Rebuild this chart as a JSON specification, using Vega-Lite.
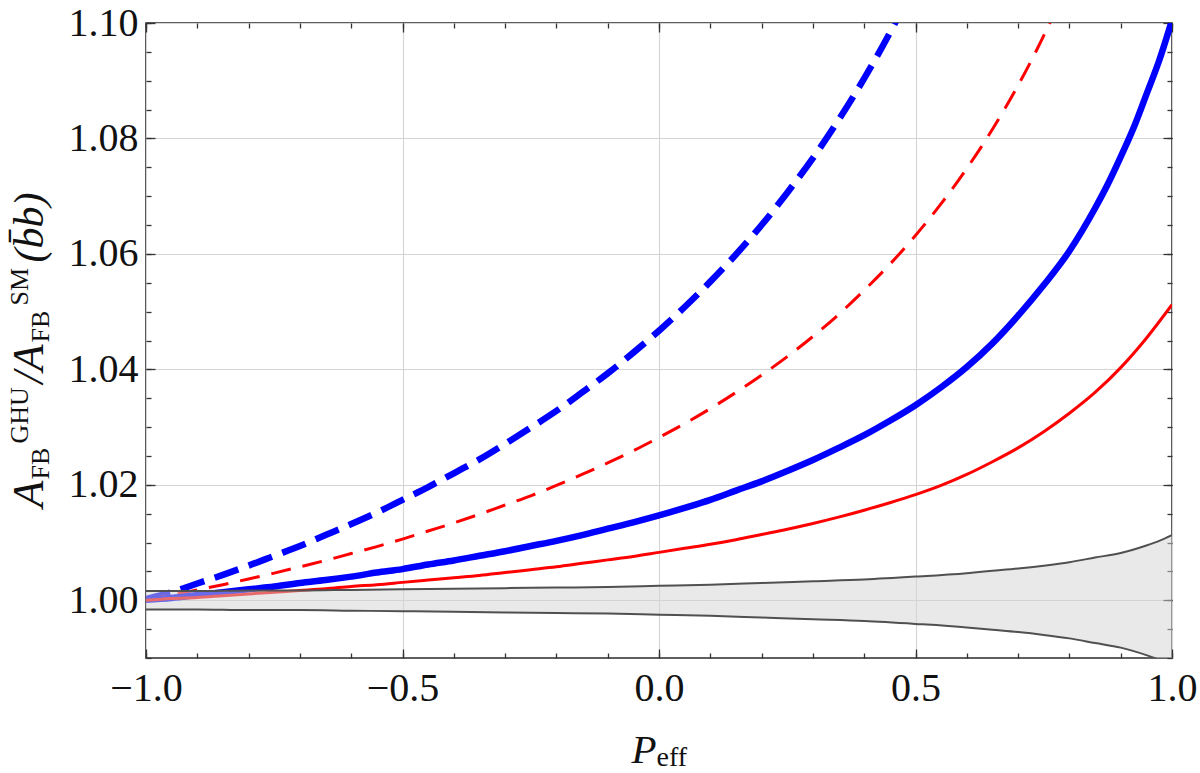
{
  "$schema": "https://vega.github.io/schema/vega-lite/v6.json",
  "width": 1026,
  "height": 635,
  "autosize": {"type": "none"},
  "padding": {"left": 146, "top": 23, "right": 28, "bottom": 115},
  "background": "white",
  "config": {
    "view": {"stroke": "#2b2b2b", "strokeWidth": 1.6},
    "axis": {"labelFont": "Liberation Serif", "titleFont": "Liberation Serif", "titleFontWeight": "normal", "labelColor": "#111", "titleColor": "#111", "tickColor": "#333", "tickWidth": 1.3, "domain": false, "labelOverlap": false, "labelFlush": false, "labelBound": false}
  },
  "datasets": {
    "curves": [
      {"s": "curve 1", "p": -1, "v": 1.0002}, {"s": "curve 1", "p": -0.95, "v": 1.0014}, {"s": "curve 1", "p": -0.9, "v": 1.0029}, {"s": "curve 1", "p": -0.85, "v": 1.0044},
      {"s": "curve 1", "p": -0.8, "v": 1.006}, {"s": "curve 1", "p": -0.75, "v": 1.0077}, {"s": "curve 1", "p": -0.7, "v": 1.0094}, {"s": "curve 1", "p": -0.65, "v": 1.0113},
      {"s": "curve 1", "p": -0.6, "v": 1.0132}, {"s": "curve 1", "p": -0.55, "v": 1.0152}, {"s": "curve 1", "p": -0.5, "v": 1.0174}, {"s": "curve 1", "p": -0.45, "v": 1.0196},
      {"s": "curve 1", "p": -0.4, "v": 1.022}, {"s": "curve 1", "p": -0.35, "v": 1.0244}, {"s": "curve 1", "p": -0.3, "v": 1.0271}, {"s": "curve 1", "p": -0.25, "v": 1.0299},
      {"s": "curve 1", "p": -0.2, "v": 1.0328}, {"s": "curve 1", "p": -0.15, "v": 1.036}, {"s": "curve 1", "p": -0.1, "v": 1.0393}, {"s": "curve 1", "p": -0.05, "v": 1.0429},
      {"s": "curve 1", "p": 0, "v": 1.0467}, {"s": "curve 1", "p": 0.05, "v": 1.0508}, {"s": "curve 1", "p": 0.1, "v": 1.0552}, {"s": "curve 1", "p": 0.15, "v": 1.0599},
      {"s": "curve 1", "p": 0.2, "v": 1.065}, {"s": "curve 1", "p": 0.25, "v": 1.0706}, {"s": "curve 1", "p": 0.3, "v": 1.0766}, {"s": "curve 1", "p": 0.35, "v": 1.0832},
      {"s": "curve 1", "p": 0.4, "v": 1.0904}, {"s": "curve 1", "p": 0.45, "v": 1.0983}, {"s": "curve 1", "p": 0.5, "v": 1.107},

      {"s": "curve 2", "p": -1, "v": 1.0001}, {"s": "curve 2", "p": -0.95, "v": 1.0009}, {"s": "curve 2", "p": -0.9, "v": 1.0018}, {"s": "curve 2", "p": -0.85, "v": 1.0027},
      {"s": "curve 2", "p": -0.8, "v": 1.0037}, {"s": "curve 2", "p": -0.75, "v": 1.0047}, {"s": "curve 2", "p": -0.7, "v": 1.0058}, {"s": "curve 2", "p": -0.65, "v": 1.0069},
      {"s": "curve 2", "p": -0.6, "v": 1.0081}, {"s": "curve 2", "p": -0.55, "v": 1.0093}, {"s": "curve 2", "p": -0.5, "v": 1.0106}, {"s": "curve 2", "p": -0.45, "v": 1.012},
      {"s": "curve 2", "p": -0.4, "v": 1.0134}, {"s": "curve 2", "p": -0.35, "v": 1.0149}, {"s": "curve 2", "p": -0.3, "v": 1.0165}, {"s": "curve 2", "p": -0.25, "v": 1.0181},
      {"s": "curve 2", "p": -0.2, "v": 1.0199}, {"s": "curve 2", "p": -0.15, "v": 1.0218}, {"s": "curve 2", "p": -0.1, "v": 1.0238}, {"s": "curve 2", "p": -0.05, "v": 1.0259},
      {"s": "curve 2", "p": 0, "v": 1.0282}, {"s": "curve 2", "p": 0.05, "v": 1.0306}, {"s": "curve 2", "p": 0.1, "v": 1.0332}, {"s": "curve 2", "p": 0.15, "v": 1.036},
      {"s": "curve 2", "p": 0.2, "v": 1.039}, {"s": "curve 2", "p": 0.25, "v": 1.0422}, {"s": "curve 2", "p": 0.3, "v": 1.0457}, {"s": "curve 2", "p": 0.35, "v": 1.0495},
      {"s": "curve 2", "p": 0.4, "v": 1.0537}, {"s": "curve 2", "p": 0.45, "v": 1.0582}, {"s": "curve 2", "p": 0.5, "v": 1.0632}, {"s": "curve 2", "p": 0.55, "v": 1.0687},
      {"s": "curve 2", "p": 0.6, "v": 1.0748}, {"s": "curve 2", "p": 0.65, "v": 1.0816}, {"s": "curve 2", "p": 0.7, "v": 1.0892}, {"s": "curve 2", "p": 0.75, "v": 1.0978},
      {"s": "curve 2", "p": 0.8, "v": 1.1076},

      {"s": "curve 3", "p": -1, "v": 1.0001}, {"s": "curve 3", "p": -0.95, "v": 1.0004}, {"s": "curve 3", "p": -0.9, "v": 1.0009}, {"s": "curve 3", "p": -0.85, "v": 1.0014},
      {"s": "curve 3", "p": -0.8, "v": 1.0019}, {"s": "curve 3", "p": -0.75, "v": 1.0024}, {"s": "curve 3", "p": -0.7, "v": 1.003}, {"s": "curve 3", "p": -0.65, "v": 1.0035},
      {"s": "curve 3", "p": -0.6, "v": 1.0041}, {"s": "curve 3", "p": -0.55, "v": 1.0048}, {"s": "curve 3", "p": -0.5, "v": 1.0054}, {"s": "curve 3", "p": -0.45, "v": 1.0062},
      {"s": "curve 3", "p": -0.4, "v": 1.0069}, {"s": "curve 3", "p": -0.35, "v": 1.0077}, {"s": "curve 3", "p": -0.3, "v": 1.0085}, {"s": "curve 3", "p": -0.25, "v": 1.0094},
      {"s": "curve 3", "p": -0.2, "v": 1.0103}, {"s": "curve 3", "p": -0.15, "v": 1.0113}, {"s": "curve 3", "p": -0.1, "v": 1.0124}, {"s": "curve 3", "p": -0.05, "v": 1.0135},
      {"s": "curve 3", "p": 0, "v": 1.0147}, {"s": "curve 3", "p": 0.05, "v": 1.016}, {"s": "curve 3", "p": 0.1, "v": 1.0174}, {"s": "curve 3", "p": 0.15, "v": 1.019},
      {"s": "curve 3", "p": 0.2, "v": 1.0206}, {"s": "curve 3", "p": 0.25, "v": 1.0224}, {"s": "curve 3", "p": 0.3, "v": 1.0243}, {"s": "curve 3", "p": 0.35, "v": 1.0264},
      {"s": "curve 3", "p": 0.4, "v": 1.0286}, {"s": "curve 3", "p": 0.45, "v": 1.0311}, {"s": "curve 3", "p": 0.5, "v": 1.0338}, {"s": "curve 3", "p": 0.55, "v": 1.0369},
      {"s": "curve 3", "p": 0.6, "v": 1.0404}, {"s": "curve 3", "p": 0.65, "v": 1.0445}, {"s": "curve 3", "p": 0.7, "v": 1.0493}, {"s": "curve 3", "p": 0.75, "v": 1.0546},
      {"s": "curve 3", "p": 0.8, "v": 1.0605}, {"s": "curve 3", "p": 0.85, "v": 1.0679}, {"s": "curve 3", "p": 0.875, "v": 1.0721}, {"s": "curve 3", "p": 0.9, "v": 1.0768},
      {"s": "curve 3", "p": 0.925, "v": 1.0818}, {"s": "curve 3", "p": 0.95, "v": 1.0876}, {"s": "curve 3", "p": 0.975, "v": 1.0935}, {"s": "curve 3", "p": 1, "v": 1.1005},

      {"s": "curve 4", "p": -1, "v": 1.0}, {"s": "curve 4", "p": -0.95, "v": 1.0003}, {"s": "curve 4", "p": -0.9, "v": 1.0005}, {"s": "curve 4", "p": -0.85, "v": 1.0008},
      {"s": "curve 4", "p": -0.8, "v": 1.0011}, {"s": "curve 4", "p": -0.75, "v": 1.0014}, {"s": "curve 4", "p": -0.7, "v": 1.0017}, {"s": "curve 4", "p": -0.65, "v": 1.002},
      {"s": "curve 4", "p": -0.6, "v": 1.0024}, {"s": "curve 4", "p": -0.55, "v": 1.0027}, {"s": "curve 4", "p": -0.5, "v": 1.0031}, {"s": "curve 4", "p": -0.45, "v": 1.0035},
      {"s": "curve 4", "p": -0.4, "v": 1.0039}, {"s": "curve 4", "p": -0.35, "v": 1.0043}, {"s": "curve 4", "p": -0.3, "v": 1.0048}, {"s": "curve 4", "p": -0.25, "v": 1.0053},
      {"s": "curve 4", "p": -0.2, "v": 1.0058}, {"s": "curve 4", "p": -0.15, "v": 1.0064}, {"s": "curve 4", "p": -0.1, "v": 1.007}, {"s": "curve 4", "p": -0.05, "v": 1.0076},
      {"s": "curve 4", "p": 0, "v": 1.0083}, {"s": "curve 4", "p": 0.05, "v": 1.009}, {"s": "curve 4", "p": 0.1, "v": 1.0097}, {"s": "curve 4", "p": 0.15, "v": 1.0105},
      {"s": "curve 4", "p": 0.2, "v": 1.0114}, {"s": "curve 4", "p": 0.25, "v": 1.0123}, {"s": "curve 4", "p": 0.3, "v": 1.0133}, {"s": "curve 4", "p": 0.35, "v": 1.0144},
      {"s": "curve 4", "p": 0.4, "v": 1.0156}, {"s": "curve 4", "p": 0.45, "v": 1.0169}, {"s": "curve 4", "p": 0.5, "v": 1.0183}, {"s": "curve 4", "p": 0.55, "v": 1.0199},
      {"s": "curve 4", "p": 0.6, "v": 1.0218}, {"s": "curve 4", "p": 0.65, "v": 1.024}, {"s": "curve 4", "p": 0.7, "v": 1.0264}, {"s": "curve 4", "p": 0.75, "v": 1.0292},
      {"s": "curve 4", "p": 0.8, "v": 1.0324}, {"s": "curve 4", "p": 0.85, "v": 1.036}, {"s": "curve 4", "p": 0.9, "v": 1.0403}, {"s": "curve 4", "p": 0.95, "v": 1.0454},
      {"s": "curve 4", "p": 1, "v": 1.0512}
    ],
    "band": [
      {"p": -1, "lo": 0.9984, "hi": 1.0016}, {"p": -0.9, "lo": 0.9984, "hi": 1.0016}, {"p": -0.8, "lo": 0.9983, "hi": 1.0017},
      {"p": -0.7, "lo": 0.9983, "hi": 1.0017}, {"p": -0.6, "lo": 0.9982, "hi": 1.0018}, {"p": -0.5, "lo": 0.9981, "hi": 1.0019},
      {"p": -0.4, "lo": 0.998, "hi": 1.002}, {"p": -0.3, "lo": 0.9979, "hi": 1.0021}, {"p": -0.2, "lo": 0.9978, "hi": 1.0022},
      {"p": -0.1, "lo": 0.9977, "hi": 1.0023}, {"p": 0, "lo": 0.9975, "hi": 1.0025}, {"p": 0.1, "lo": 0.9973, "hi": 1.0027},
      {"p": 0.2, "lo": 0.997, "hi": 1.003}, {"p": 0.3, "lo": 0.9967, "hi": 1.0033}, {"p": 0.4, "lo": 0.9964, "hi": 1.0036},
      {"p": 0.5, "lo": 0.9959, "hi": 1.0041}, {"p": 0.6, "lo": 0.9953, "hi": 1.0047}, {"p": 0.65, "lo": 0.9949, "hi": 1.0051},
      {"p": 0.7, "lo": 0.9945, "hi": 1.0055}, {"p": 0.75, "lo": 0.994, "hi": 1.006}, {"p": 0.8, "lo": 0.9934, "hi": 1.0066},
      {"p": 0.85, "lo": 0.9926, "hi": 1.0074}, {"p": 0.9, "lo": 0.9918, "hi": 1.0082}, {"p": 0.95, "lo": 0.9905, "hi": 1.0095},
      {"p": 0.975, "lo": 0.9897, "hi": 1.0103}, {"p": 1, "lo": 0.9887, "hi": 1.0113}
    ]
  },
  "resolve": {"axis": {"x": "independent", "y": "independent"}},
  "layer": [
    {
      "description": "vertical line at P = 0; carries the minor ticks of the top frame",
      "mark": {"type": "rule", "color": "#111", "strokeWidth": 1.2},
      "encoding": {
        "x": {"datum": 0, "type": "quantitative",
          "scale": {"domain": [-1, 1], "nice": false, "zero": false},
          "axis": {"orient": "top", "values": [-1, -0.9, -0.8, -0.7, -0.6, -0.5, -0.4, -0.3, -0.2, -0.1, 0, 0.1, 0.2, 0.3, 0.4, 0.5, 0.6, 0.7, 0.8, 0.9, 1],
            "tickSize": -5, "labels": false, "grid": false,
            "title": "SM", "titleFontSize": 26, "titleAngle": 270, "titleAlign": "left", "titleBaseline": "alphabetic", "titleX": -119, "titleY": 282}}
      }
    },
    {
      "description": "dashed curves",
      "data": {"name": "curves"},
      "transform": [{"filter": {"field": "s", "oneOf": ["curve 1", "curve 2"]}}],
      "mark": {"type": "line", "clip": true, "strokeCap": "butt", "interpolate": "monotone"},
      "encoding": {
        "x": {"field": "p", "type": "quantitative",
          "scale": {"domain": [-1, 1], "nice": false, "zero": false},
          "axis": {"orient": "bottom", "values": [-1, -0.5, 0, 0.5, 1], "format": ".1f",
            "grid": true, "gridColor": "#d4d4d4", "gridWidth": 1.1,
            "tickSize": -9, "labelFontSize": 40, "labelPadding": 19,
            "title": "P", "titleFontSize": 41, "titleFontStyle": "italic", "titleAngle": 0, "titleAlign": "left", "titleBaseline": "alphabetic", "titleX": 485, "titleY": 104}},
        "y": {"field": "v", "type": "quantitative",
          "scale": {"domain": [0.99, 1.1], "nice": false, "zero": false},
          "axis": {"orient": "left", "values": [1, 1.02, 1.04, 1.06, 1.08, 1.1], "format": ".2f",
            "grid": true, "gridColor": "#d4d4d4", "gridWidth": 1.1,
            "tickSize": -9, "labelFontSize": 40, "labelPadding": 17,
            "title": "A", "titleFontSize": 44, "titleFontStyle": "italic", "titleAngle": 270, "titleAlign": "left", "titleBaseline": "alphabetic", "titleX": -104, "titleY": 484}},
        "color": {"field": "s", "type": "nominal", "legend": null,
          "scale": {"domain": ["curve 1", "curve 2", "curve 3", "curve 4"], "range": ["#0000ff", "#ff0000", "#0000ff", "#ff0000"]}},
        "strokeWidth": {"field": "s", "type": "nominal", "legend": null,
          "scale": {"type": "ordinal", "domain": ["curve 1", "curve 2", "curve 3", "curve 4"], "range": [6.5, 3, 6.5, 3]}},
        "strokeDash": {"field": "s", "type": "nominal", "legend": null,
          "scale": {"type": "ordinal", "domain": ["curve 1", "curve 2"], "range": [[25, 11], [20, 12]]}}
      }
    },
    {
      "description": "solid curves",
      "data": {"name": "curves"},
      "transform": [{"filter": {"field": "s", "oneOf": ["curve 3", "curve 4"]}}],
      "mark": {"type": "line", "clip": true, "interpolate": "monotone"},
      "encoding": {
        "x": {"field": "p", "type": "quantitative",
          "scale": {"domain": [-1, 1], "nice": false, "zero": false},
          "axis": {"orient": "bottom", "values": [-1, -0.9, -0.8, -0.7, -0.6, -0.5, -0.4, -0.3, -0.2, -0.1, 0, 0.1, 0.2, 0.3, 0.4, 0.5, 0.6, 0.7, 0.8, 0.9, 1],
            "tickSize": -5, "labels": false, "grid": false,
            "title": "eff", "titleFontSize": 28, "titleAngle": 0, "titleAlign": "left", "titleBaseline": "alphabetic", "titleX": 510, "titleY": 107}},
        "y": {"field": "v", "type": "quantitative",
          "scale": {"domain": [0.99, 1.1], "nice": false, "zero": false},
          "axis": {"orient": "left", "values": [0.99, 0.995, 1, 1.005, 1.01, 1.015, 1.02, 1.025, 1.03, 1.035, 1.04, 1.045, 1.05, 1.055, 1.06, 1.065, 1.07, 1.075, 1.08, 1.085, 1.09, 1.095, 1.1],
            "tickSize": -5, "labels": false, "grid": false,
            "title": "FB", "titleFontSize": 26, "titleAngle": 270, "titleAlign": "left", "titleBaseline": "alphabetic", "titleX": -98, "titleY": 456}},
        "color": {"field": "s", "type": "nominal", "legend": null,
          "scale": {"domain": ["curve 1", "curve 2", "curve 3", "curve 4"], "range": ["#0000ff", "#ff0000", "#0000ff", "#ff0000"]}},
        "strokeWidth": {"field": "s", "type": "nominal", "legend": null,
          "scale": {"type": "ordinal", "domain": ["curve 1", "curve 2", "curve 3", "curve 4"], "range": [6.5, 3, 6.5, 3]}}
      }
    },
    {
      "description": "uncertainty band around 1",
      "data": {"name": "band"},
      "mark": {"type": "area", "clip": true, "color": "#d4d4d4", "opacity": 0.5, "interpolate": "monotone"},
      "encoding": {
        "x": {"field": "p", "type": "quantitative",
          "scale": {"domain": [-1, 1], "nice": false, "zero": false},
          "axis": {"orient": "top", "values": [-1, -0.5, 0, 0.5, 1],
            "tickSize": -9, "labels": false, "grid": false,
            "title": "FB", "titleFontSize": 26, "titleAngle": 270, "titleAlign": "left", "titleBaseline": "alphabetic", "titleX": -98, "titleY": 319}},
        "y": {"field": "hi", "type": "quantitative",
          "scale": {"domain": [0.99, 1.1], "nice": false, "zero": false},
          "axis": {"orient": "right", "values": [1, 1.02, 1.04, 1.06, 1.08, 1.1],
            "tickSize": -9, "labels": false, "grid": false,
            "title": "GHU", "titleFontSize": 26, "titleAngle": 270, "titleAlign": "left", "titleBaseline": "alphabetic", "titleX": -1145, "titleY": 420}},
        "y2": {"field": "lo"}
      }
    },
    {
      "description": "upper edge of the band",
      "data": {"name": "band"},
      "mark": {"type": "line", "clip": true, "color": "#505050", "strokeWidth": 2, "interpolate": "monotone"},
      "encoding": {
        "x": {"field": "p", "type": "quantitative", "scale": {"domain": [-1, 1], "nice": false, "zero": false}, "axis": null},
        "y": {"field": "hi", "type": "quantitative",
          "scale": {"domain": [0.99, 1.1], "nice": false, "zero": false},
          "axis": {"orient": "right", "values": [0.99, 0.995, 1, 1.005, 1.01, 1.015, 1.02, 1.025, 1.03, 1.035, 1.04, 1.045, 1.05, 1.055, 1.06, 1.065, 1.07, 1.075, 1.08, 1.085, 1.09, 1.095, 1.1],
            "tickSize": -5, "labels": false, "grid": false,
            "title": "/A", "titleFontSize": 44, "titleFontStyle": "italic", "titleAngle": 270, "titleAlign": "left", "titleBaseline": "alphabetic", "titleX": -1130, "titleY": 360}}
      }
    },
    {
      "description": "lower edge of the band",
      "data": {"name": "band"},
      "mark": {"type": "line", "clip": true, "color": "#505050", "strokeWidth": 2, "interpolate": "monotone"},
      "encoding": {
        "x": {"field": "p", "type": "quantitative", "scale": {"domain": [-1, 1], "nice": false, "zero": false}, "axis": null},
        "y": {"field": "lo", "type": "quantitative",
          "scale": {"domain": [0.99, 1.1], "nice": false, "zero": false},
          "axis": {"orient": "left", "ticks": false, "labels": false, "grid": false,
            "title": "(b̄b)", "titleFontSize": 42, "titleFontStyle": "italic", "titleAngle": 270, "titleAlign": "left", "titleBaseline": "alphabetic", "titleX": -104, "titleY": 239}}
      }
    }
  ]
}
